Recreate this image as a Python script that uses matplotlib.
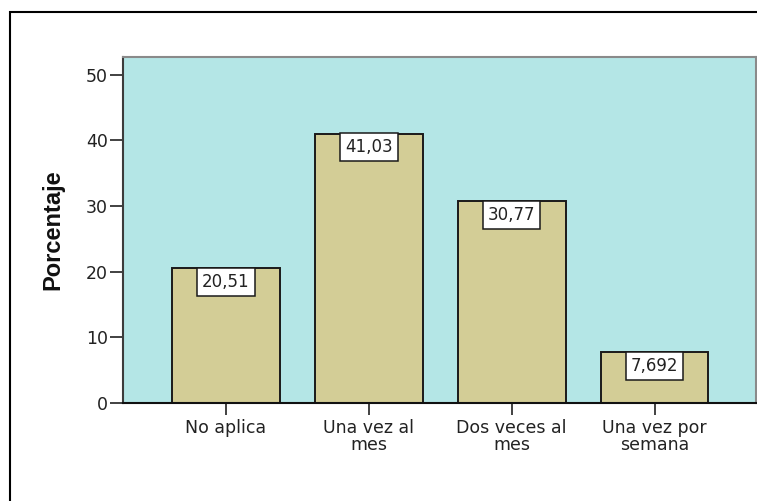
import matplotlib.pyplot as plt
from matplotlib.patches import Rectangle

categories = ["No aplica", "Una vez al\nmes", "Dos veces al\nmes", "Una vez por\nsemana"]
percentages = [20.51, 41.03, 30.77, 7.692]
value_labels = ["20,51", "41,03", "30,77", "7,692"]
y_ticks = [0, 10, 20, 30, 40, 50]

W, H = 757, 501
fig = plt.figure(figsize=(W / 100, H / 100), dpi=100)

# outer frame (cropped on the right and bottom in the original)
fig.patches.append(Rectangle((10 / W, -0.2), 1.2, 1 - 12 / H + 0.2, transform=fig.transFigure,
                             fill=False, edgecolor="black", linewidth=1.5))

ax = fig.add_axes([123 / W, 1 - 403 / H, (756 - 123) / W, (403 - 57) / H])
ax.set_facecolor("#b4e6e6")

x = range(len(categories))
ax.bar(x, percentages, width=0.755, color="#d3cd96", edgecolor="#1a1a1a", linewidth=1.4, zorder=2)

# value boxes sitting at the top of each bar
for i, (v, lab) in enumerate(zip(percentages, value_labels)):
    ax.annotate(lab, xy=(i, v), xytext=(0, -3.3), textcoords="offset points",
                ha="center", va="top", fontsize=12, family="DejaVu Sans", color="#222222",
                bbox=dict(boxstyle="square,pad=0.3", fc="white", ec="#1a1a1a", lw=1.1),
                zorder=3)

ax.set_xlim(-0.72, 3.71)
ax.set_ylim(0, 52.7)
ax.set_yticks(y_ticks)
ax.set_yticklabels([str(t) for t in y_ticks], family="DejaVu Sans", fontsize=12.5, color="#222222")
ax.set_xticks(list(x))
ax.set_xticklabels(categories, family="DejaVu Sans", fontsize=12.5, color="#222222", linespacing=0.95)

ax.tick_params(axis="y", direction="out", length=9.4, width=1.3, color="#333333", pad=1.5)
ax.tick_params(axis="x", direction="out", length=8.5, width=1.3, color="#333333", pad=3)

ax.spines["left"].set_color("#3c3c3c")
ax.spines["left"].set_linewidth(1.5)
ax.spines["top"].set_color("#8a8a8a")
ax.spines["top"].set_linewidth(1.5)
ax.spines["right"].set_color("#8a8a8a")
ax.spines["right"].set_linewidth(1.5)
ax.spines["bottom"].set_color("#111111")
ax.spines["bottom"].set_linewidth(1.5)

ax.set_ylabel("Porcentaje", family="Liberation Sans", fontweight="bold", fontsize=17, color="#111111")
ax.yaxis.set_label_coords((64 - 123) / (756 - 123), 0.5)

fig.savefig("out.png", dpi=100)
